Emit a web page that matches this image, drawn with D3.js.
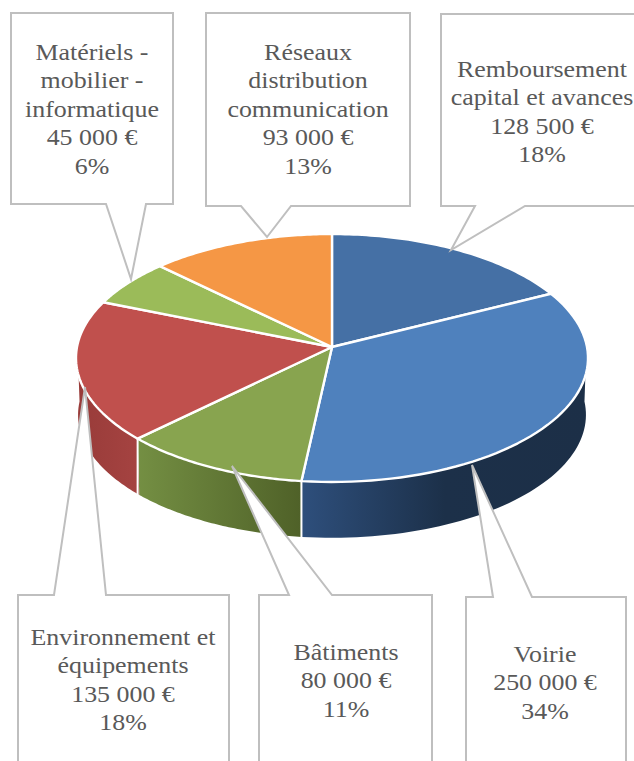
<!DOCTYPE html>
<html>
<head>
<meta charset="utf-8">
<script src="https://cdn.jsdelivr.net/npm/d3@7/dist/d3.min.js"></script>
<style>
    html, body { margin: 0; padding: 0; background: #fff; }
    svg { display: block; }
    text { font-family: "Liberation Serif", serif; font-size: 24px; fill: #595959; text-anchor: middle; }
</style>
</head>
<body>
<div id="chart"></div>
<script>
const categories = ['Remboursement capital et avances', 'Voirie', 'Bâtiments', 'Environnement et équipements', 'Matériels - mobilier - informatique', 'Réseaux distribution communication'];
const values = [128500, 250000, 80000, 135000, 45000, 93000];
const percents = ['18%', '34%', '11%', '18%', '6%', '13%'];
const amounts = ['128 500 €', '250 000 €', '80 000 €', '135 000 €', '45 000 €', '93 000 €'];
const nameLines = [
    ['Remboursement', 'capital et avances'],
    ['Voirie'],
    ['Bâtiments'],
    ['Environnement et', 'équipements'],
    ['Matériels -', 'mobilier -', 'informatique'],
    ['Réseaux', 'distribution', 'communication']
];

const topColors = ['#4570a5', '#4f81bd', '#88a44f', '#c0504d', '#9bbb59', '#f59745'];
const wallColors = [
    ['#365a85', '#365a85'],
    ['#2e4f7c', '#1c3049', '#1c2f47'],
    ['#748f43', '#4f6128'],
    ['#983b39', '#a54341'],
    ['#7f9b4b', '#7f9b4b'],
    ['#c87a3a', '#c87a3a']
];

// callout outlines: box edges, pointer base a/c on the side facing the pie, pointer tip, text anchor
const boxes = [
    {l: 441, r: 640, t: 14, b: 206, side: 'b', a: 475, c: 525, tx: 451, ty: 250, midX: 542, textY: 77},
    {l: 466, r: 626, t: 597, b: 770, side: 't', a: 493, c: 532, tx: 472, ty: 465, midX: 545, textY: 662},
    {l: 259, r: 432, t: 595, b: 770, side: 't', a: 289, c: 332, tx: 232, ty: 466, midX: 346, textY: 660},
    {l: 18, r: 229, t: 595, b: 770, side: 't', a: 54, c: 106, tx: 85, ty: 387, midX: 123, textY: 645},
    {l: 11, r: 173, t: 13, b: 204, side: 'b', a: 106, c: 146, tx: 131, ty: 279, midX: 92, textY: 60},
    {l: 206, r: 410, t: 13, b: 206, side: 'b', a: 241, c: 291, tx: 267, ty: 237, midX: 308, textY: 60}
];

const width = 634, height = 761;
const cx = 332, cy = 347, radius = 255, flatten = 123, persp = 0.0887, depth = 57, lineH = 28.5, stretch = 1.08;

// tilted disc: a = clockwise angle from the top, r = 0..1
function project(a, r, drop) {
    const u = Math.sin(a) * r, v = -Math.cos(a) * r;
    const w = 1 - persp * v;
    return [cx + radius * u / w, cy + flatten * v / w + (drop || 0)];
}

const svg = d3.select('#chart').append('svg').attr('width', width).attr('height', height);
const defs = svg.append('defs');

const pie = d3.pie().sort(null).value(function(d){return d;});
const arcs = pie(values);
const line = d3.line();

function rim(d, r, drop) {
    return d3.range(0, 61).map(function(i){
        return project(d.startAngle + (d.endAngle - d.startAngle) * i / 60, r, drop);
    });
}

// walls are only visible on the front half
const front = arcs.map(function(d, i){
    const s = Math.max(d.startAngle, Math.PI / 2 - 0.02), e = Math.min(d.endAngle, Math.PI * 1.5 + 0.02);
    return {i: i, startAngle: s, endAngle: e, show: s < e};
}).filter(function(d){return d.show;});

front.forEach(function(d){
    const top = rim(d, 1, 0), bottom = rim(d, 0.992, depth);
    const xs = top.map(function(p){return p[0];});
    const g = defs.append('linearGradient').attr('id', 'wall' + d.i)
        .attr('gradientUnits', 'userSpaceOnUse')
        .attr('x1', d3.min(xs)).attr('x2', d3.max(xs)).attr('y1', 0).attr('y2', 0);
    wallColors[d.i].forEach(function(c, j, all){
        g.append('stop').attr('offset', j / (all.length - 1)).attr('stop-color', c);
    });
    svg.append('path')
        .attr('d', line(top.concat(bottom.reverse())) + 'Z')
        .attr('fill', 'url(#wall' + d.i + ')')
        .attr('stroke', 'none');
    const cut = project(d.startAngle, 1, 0);
    if (d.startAngle > Math.PI / 2) {
        svg.append('line')
            .attr('x1', cut[0]).attr('y1', cut[1])
            .attr('x2', cut[0]).attr('y2', cut[1] + depth)
            .attr('stroke', '#fff').attr('stroke-width', 2);
    }
});

arcs.forEach(function(d, i){
    const pts = [project(0, 0)].concat(rim(d, 1, 0));
    svg.append('path')
        .attr('d', line(pts) + 'Z')
        .attr('fill', topColors[i])
        .attr('stroke', '#fff')
        .attr('stroke-width', 2.4)
        .attr('stroke-linejoin', 'round');
});

// callouts
boxes.forEach(function(b, i){
    const y = b.side === 'b' ? b.b : b.t;
    let pts;
    if (b.side === 'b') {
        pts = [[b.l, b.t], [b.r, b.t], [b.r, b.b], [b.c, y], [b.tx, b.ty], [b.a, y], [b.l, b.b]];
    } else {
        pts = [[b.l, b.t], [b.a, y], [b.tx, b.ty], [b.c, y], [b.r, b.t], [b.r, b.b], [b.l, b.b]];
    }
    svg.append('path')
        .attr('d', line(pts) + 'Z')
        .attr('fill', '#fff')
        .attr('stroke', '#bfbfbf')
        .attr('stroke-width', 2);

    const rows = nameLines[i].concat([amounts[i], percents[i]]);
    // Cambria-ish width: stretch the serif sideways around the box centre
    const txt = svg.append('text')
        .attr('aria-label', categories[i])
        .attr('transform', 'translate(' + b.midX + ',0) scale(' + stretch + ',1)');
    rows.forEach(function(r, j){
        txt.append('tspan').attr('x', 0).attr('y', b.textY + j * lineH).text(r);
    });
});
</script>
</body>
</html>
